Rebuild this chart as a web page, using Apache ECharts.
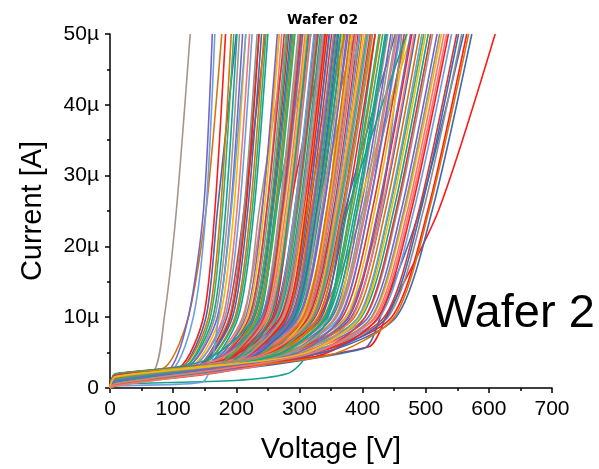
<!DOCTYPE html>
<html>
<head>
<meta charset="utf-8">
<script src="https://cdn.jsdelivr.net/npm/echarts@6/dist/echarts.min.js"></script>
<style>
  html, body { margin: 0; padding: 0; background: #fff; }
  #chart { width: 599px; height: 469px; }
</style>
</head>
<body>
<div id="chart"></div>
<script>
// I-V sweeps of the diodes on wafer 02 (current in µA).
// Every row: [I at first step, knee voltage, knee current, V at 10µA, V at 25µA, V at 50µA]
const firstStepVoltage = 8;          // V, first bias point after 0 V
const currentLevels = [10, 25, 50];  // µA, levels at which crossing voltages are listed

const xTicks = [0, 100, 200, 300, 400, 500, 600, 700];
const yTicks = [0, 10, 20, 30, 40, 50];

const outlierCurves = [
  [0.6, 409, 5.8, 437, 520, 610],
  [0.4, 402, 5.6, 428, 490, 560],
  [1.6, 88, 3.0, 124, 152, 177],
  [1.0, 140, 3.0, 190, 213, 236],
  [0.5, 280, 2.0, 345, 380, 420],
  [1.5, 68, 2.2, 86, 105, 127],
  [1.2, 92, 2.4, 124, 148, 162],
  [1.0, 200, 3.5, 300, 360, 420],
  [1.4, 150, 3.0, 210, 240, 268],
  [0.9, 98, 2.5, 132, 152, 166],
  [0.5, 220, 3.2, 290, 330, 370],
  [1.1, 230, 3.6, 330, 400, 470]
];

const earlyCurves = [
  [1.8, 110, 2.9, 148, 166, 183], [1.4, 112, 2.7, 152, 170, 200],
  [1.9, 115, 3.0, 156, 175, 192], [1.1, 118, 2.8, 159, 178, 196],
  [1.6, 121, 3.1, 163, 183, 201], [0.8, 123, 2.9, 166, 187, 205],
  [1.7, 126, 3.2, 170, 191, 210], [1.3, 129, 3.0, 174, 196, 215],
  [1.9, 133, 3.1, 179, 201, 221], [1.0, 135, 3.3, 182, 205, 225],
  [1.5, 137, 2.9, 185, 212, 246], [0.6, 140, 3.2, 189, 212, 233],
  [1.8, 142, 3.0, 191, 215, 236], [1.2, 144, 3.4, 194, 218, 240],
  [0.9, 146, 3.1, 198, 222, 244], [1.6, 148, 3.3, 200, 225, 247],
  [2.0, 150, 3.0, 203, 228, 250], [1.1, 157, 3.2, 212, 236, 280],
  [1.4, 159, 3.5, 215, 241, 265], [0.7, 161, 3.1, 217, 244, 268],
  [1.7, 163, 3.4, 220, 248, 272], [0.3, 145, 0.8, 172, 192, 215]
];

const middleCurves = [
  [1.2, 160, 3.3, 221, 248, 276], [1.9, 162, 3.6, 223, 251, 279],
  [0.5, 164, 3.4, 226, 255, 283], [1.5, 166, 3.2, 229, 257, 286],
  [1.0, 168, 3.7, 232, 261, 290], [1.8, 170, 3.5, 234, 264, 293],
  [1.3, 172, 3.3, 237, 262, 318], [0.8, 174, 3.6, 240, 270, 300],
  [1.6, 176, 3.4, 242, 273, 303], [1.1, 177, 3.8, 245, 275, 306],
  [1.9, 179, 3.5, 247, 278, 309], [0.4, 181, 3.3, 250, 281, 312],
  [1.4, 183, 3.7, 252, 284, 315], [1.0, 184, 3.5, 254, 286, 318],
  [1.7, 186, 3.9, 257, 284, 340], [1.2, 188, 3.6, 259, 292, 324],
  [0.6, 190, 3.4, 262, 294, 327], [1.5, 191, 3.8, 264, 297, 330],
  [1.9, 193, 3.6, 266, 300, 333], [0.9, 195, 3.4, 269, 302, 336],
  [1.3, 197, 3.9, 271, 305, 339], [1.8, 198, 3.7, 274, 308, 342],
  [0.7, 200, 3.5, 276, 305, 366], [1.4, 202, 4.0, 278, 313, 348],
  [1.1, 204, 3.8, 281, 316, 351], [1.6, 205, 3.6, 283, 319, 354],
  [0.5, 207, 4.1, 286, 321, 357], [1.9, 209, 3.9, 288, 324, 360],
  [1.2, 211, 3.7, 290, 318, 388], [0.8, 212, 4.0, 293, 329, 366],
  [1.5, 214, 3.8, 295, 332, 369], [1.0, 216, 4.2, 298, 335, 372],
  [1.7, 218, 3.9, 300, 338, 375], [1.3, 219, 3.7, 302, 345, 368],
  [0.6, 221, 4.1, 305, 343, 381], [1.8, 223, 3.9, 307, 346, 384],
  [1.1, 224, 4.2, 310, 348, 387], [1.4, 226, 4.0, 312, 351, 390],
  [0.9, 228, 3.8, 314, 354, 393], [1.6, 230, 4.3, 317, 356, 396],
  [1.2, 231, 4.1, 319, 359, 399],
  [1.0, 167, 3.0, 227, 254, 281], [1.7, 150, 3.9, 228, 258, 288],
  [0.3, 185, 3.2, 241, 268, 298], [1.8, 160, 3.6, 240, 273, 305],
  [1.0, 190, 3.4, 252, 281, 311], [1.3, 170, 4.0, 250, 284, 317],
  [0.6, 200, 3.5, 262, 292, 323], [1.9, 178, 3.9, 260, 295, 329],
  [1.2, 206, 3.3, 271, 302, 335], [0.8, 185, 4.1, 270, 306, 341],
  [1.5, 212, 3.6, 281, 313, 347], [1.0, 192, 4.0, 279, 312, 372],
  [1.8, 220, 3.7, 291, 324, 359], [1.3, 200, 4.2, 289, 327, 365],
  [0.4, 228, 3.8, 300, 330, 396], [1.7, 208, 4.3, 298, 337, 377],
  [1.1, 235, 3.9, 310, 345, 383], [1.5, 215, 4.4, 308, 348, 389],
  [0.7, 240, 4.0, 320, 356, 395], [1.4, 176, 3.5, 244, 272, 302],
  [1.0, 192, 3.6, 263, 294, 326], [1.6, 203, 3.8, 278, 310, 344],
  [0.9, 214, 3.9, 292, 327, 362], [1.9, 225, 4.0, 306, 343, 380],
  [1.1, 172, 3.3, 235, 263, 292], [1.7, 187, 3.5, 254, 283, 314],
  [0.5, 200, 3.7, 273, 305, 338], [1.4, 210, 3.9, 287, 321, 356]
];

const lateCurves = [
  [1.0, 233, 4.2, 318, 358, 402], [1.6, 235, 4.5, 320, 360, 405],
  [0.7, 237, 4.0, 323, 364, 409], [1.3, 239, 4.4, 325, 367, 412],
  [1.8, 241, 4.2, 329, 370, 416], [0.9, 244, 4.6, 332, 374, 420],
  [1.5, 246, 4.3, 335, 372, 452], [1.1, 248, 4.7, 338, 381, 428],
  [1.9, 251, 4.4, 341, 384, 432], [0.6, 253, 4.2, 344, 388, 436],
  [1.4, 255, 4.8, 348, 392, 440], [1.0, 258, 4.5, 352, 396, 445],
  [1.7, 261, 4.3, 356, 392, 478], [1.2, 264, 4.9, 359, 405, 455],
  [0.8, 267, 4.6, 363, 409, 460], [1.6, 270, 4.4, 368, 415, 466],
  [1.1, 274, 5.0, 373, 428, 462], [1.8, 277, 4.7, 378, 425, 478],
  [0.5, 281, 4.5, 382, 431, 484], [1.3, 284, 5.1, 387, 436, 490],
  [1.0, 288, 4.8, 393, 442, 497], [1.6, 292, 4.6, 398, 449, 504],
  [1.2, 296, 5.2, 404, 455, 511], [0.8, 300, 4.9, 409, 461, 518],
  [1.5, 305, 4.7, 415, 467, 525], [1.1, 309, 5.3, 421, 474, 533],
  [1.7, 314, 5.0, 427, 481, 541], [0.9, 318, 4.8, 434, 489, 549],
  [1.4, 323, 5.4, 440, 496, 557], [1.0, 328, 5.1, 446, 503, 565],
  [1.6, 332, 4.9, 453, 510, 573],
  [0.4, 250, 4.0, 330, 368, 414], [1.9, 262, 4.4, 340, 380, 426],
  [0.6, 268, 4.1, 350, 391, 438], [1.4, 275, 4.6, 357, 400, 448],
  [0.9, 282, 4.2, 365, 409, 458], [1.7, 290, 4.7, 374, 419, 470],
  [0.3, 298, 4.3, 384, 430, 482], [1.2, 305, 4.8, 393, 441, 494],
  [1.8, 312, 4.4, 404, 453, 508], [0.7, 320, 4.9, 414, 465, 522],
  [1.3, 328, 4.5, 425, 477, 536], [1.0, 336, 5.0, 438, 492, 552],
  [1.5, 345, 4.6, 450, 505, 568], [1.2, 246, 4.3, 322, 362, 407],
  [0.8, 258, 4.5, 342, 376, 470], [1.5, 270, 4.4, 358, 403, 453],
  [1.0, 285, 4.6, 377, 424, 476], [1.6, 300, 4.7, 396, 445, 500],
  [0.6, 316, 4.8, 419, 471, 529]
];

const allCurves = outlierCurves.concat(earlyCurves, middleCurves, lateCurves);

const palette = [
  '#ff1a1a', '#3f69b0', '#d9740c', '#38b062', '#16a194', '#a4948c',
  '#7466c8', '#f5b90a', '#f77470', '#6d9fdb', '#d43a3a', '#8f8f8f'
];

function curvePoints(row) {
  const [i0, vk, ik, v10, v25, v50] = row;
  return [
    [0, 0],
    [firstStepVoltage, i0],
    [vk, ik],
    [v10, currentLevels[0]],
    [v25, currentLevels[1]],
    [v50, currentLevels[2]]
  ];
}

const series = allCurves.map((row, i) => ({
  type: 'line',
  data: curvePoints(row),
  showSymbol: false,
  smooth: 0.25,
  clip: true,
  silent: true,
  lineStyle: { width: 1.6, color: palette[i % palette.length] }
}));

const font = 'Liberation Sans, Arial, sans-serif';
const chart = echarts.init(document.getElementById('chart'), null, { renderer: 'canvas' });

chart.setOption({
  animation: false,
  backgroundColor: '#fff',
  title: {
    text: 'Wafer 02',
    left: 282,
    top: 8,
    textStyle: { fontFamily: 'DejaVu Sans', fontWeight: 'bold', fontSize: 14, color: '#000' }
  },
  grid: { left: 110, right: 47, top: 34, bottom: 80 },
  xAxis: {
    type: 'value',
    min: xTicks[0],
    max: xTicks[xTicks.length - 1],
    interval: 100,
    name: 'Voltage [V]',
    nameLocation: 'middle',
    nameGap: 47,
    nameTextStyle: { fontFamily: font, fontSize: 29, color: '#000' },
    axisLine: { onZero: false, lineStyle: { color: '#000', width: 1.5 } },
    axisTick: { length: 5, lineStyle: { color: '#000', width: 1.5 } },
    minorTick: { show: true, splitNumber: 2, length: 3, lineStyle: { color: '#000', width: 1.5 } },
    splitLine: { show: false },
    axisLabel: { fontFamily: font, fontSize: 21, color: '#000', margin: 11 }
  },
  yAxis: {
    type: 'value',
    min: yTicks[0],
    max: yTicks[yTicks.length - 1],
    interval: 10,
    name: 'Current [A]',
    nameLocation: 'middle',
    nameGap: 63,
    nameTextStyle: { fontFamily: font, fontSize: 29, color: '#000' },
    axisLine: { show: true, onZero: false, lineStyle: { color: '#000', width: 1.5 } },
    axisTick: { show: true, length: 5, lineStyle: { color: '#000', width: 1.5 } },
    minorTick: { show: true, splitNumber: 2, length: 3, lineStyle: { color: '#000', width: 1.5 } },
    splitLine: { show: false },
    axisLabel: {
      fontFamily: font, fontSize: 21, color: '#000', margin: 11,
      formatter: v => (v === 0 ? '0' : v + 'µ')
    }
  },
  graphic: [{
    type: 'text',
    left: 432,
    top: 291,
    style: { text: 'Wafer 2', fontFamily: font, fontSize: 47, fill: '#000' }
  }],
  series: series
});
</script>
</body>
</html>
